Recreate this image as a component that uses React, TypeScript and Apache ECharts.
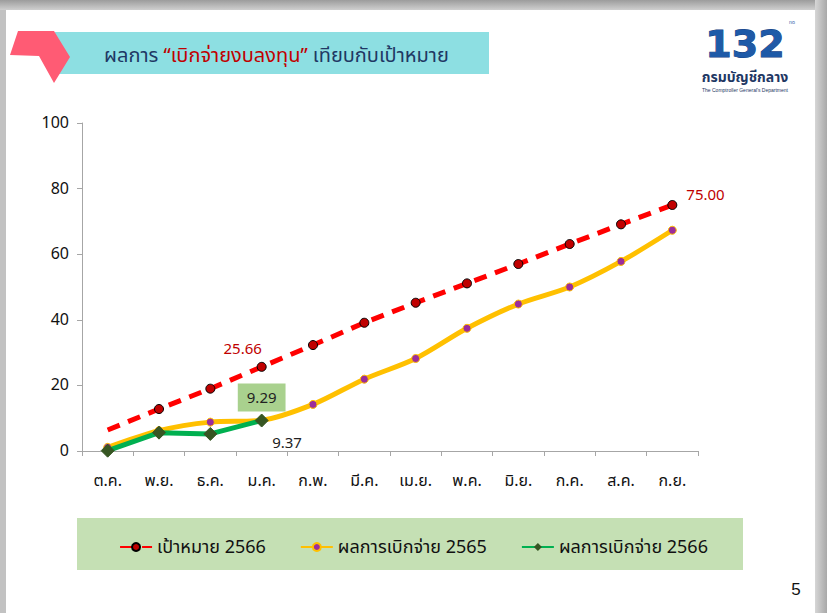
import React, { useEffect, useRef } from "react";
import * as echarts from "echarts";

const months = ["ต.ค.", "พ.ย.", "ธ.ค.", "ม.ค.", "ก.พ.", "มี.ค.", "เม.ย.", "พ.ค.", "มิ.ย.", "ก.ค.", "ส.ค.", "ก.ย."];
const target2566 = [6.4, 12.8, 19.0, 25.66, 32.3, 39.1, 45.2, 51.1, 57.0, 63.1, 69.1, 75.0];
const actual2565 = [1.1, 6.2, 8.8, 9.37, 14.2, 21.9, 28.2, 37.4, 44.8, 50.0, 57.8, 67.3];
const actual2566 = [0.1, 5.6, 5.2, 9.29];
const seriesNames = ["เป้าหมาย 2566", "ผลการเบิกจ่าย 2565", "ผลการเบิกจ่าย 2566"];
const yTicks = { min: 0, max: 100, interval: 20 };

const FONT = "'Noto Sans Thai', Tahoma, 'Noto Sans', sans-serif";

export default function App() {
  const ref = useRef<HTMLDivElement>(null);
  useEffect(() => {
    if (!ref.current) return;
    const chart = echarts.init(ref.current, undefined, { renderer: "svg" });

    const targetData = target2566.map((v, i) => {
      const item: any = { value: v };
      if (i === 0) item.symbol = "none";
      if (i === 3) {
        item.label = { show: true, position: "top", offset: [-19, 0], color: "#c00000", fontSize: 15, formatter: (p: any) => p.value.toFixed(2) };
      }
      if (i === target2566.length - 1) {
        item.label = { show: true, position: "right", offset: [4, -10], color: "#c00000", fontSize: 15, formatter: (p: any) => p.value.toFixed(2) };
      }
      return item;
    });
    const a65Data = actual2565.map((v, i) => {
      const item: any = { value: v };
      if (i === 3) {
        item.label = { show: true, position: "right", offset: [1, 23], color: "#222", fontSize: 15, formatter: (p: any) => p.value.toFixed(2) };
      }
      return item;
    });
    const a66Data = actual2566.map((v, i) => {
      const item: any = { value: v };
      if (i === 3) {
        item.label = {
          show: true, position: "top", offset: [0, 3], color: "#222", fontSize: 15,
          backgroundColor: "#a9d18e", padding: [7, 9, 6, 9],
          formatter: (p: any) => p.value.toFixed(2),
        };
      }
      return item;
    });

    chart.setOption({
      animation: false,
      textStyle: { fontFamily: FONT },
      grid: { left: 82, right: 129, top: 123, bottom: 162, containLabel: false },
      xAxis: {
        type: "category",
        data: months,
        boundaryGap: true,
        axisLine: { lineStyle: { color: "#a6a6a6", width: 1 } },
        axisTick: { show: true, length: 5, lineStyle: { color: "#a6a6a6" } },
        axisLabel: { color: "#111", fontSize: 16, margin: 22, fontFamily: FONT },
        splitLine: { show: false },
      },
      yAxis: {
        type: "value",
        min: yTicks.min,
        max: yTicks.max,
        interval: yTicks.interval,
        axisLine: { show: true, lineStyle: { color: "#a6a6a6", width: 1 } },
        axisTick: { show: true, length: 5, lineStyle: { color: "#a6a6a6" } },
        axisLabel: { color: "#111", fontSize: 16, margin: 13, fontFamily: FONT },
        splitLine: { show: false },
      },
      legend: {
        data: seriesNames,
        left: "center",
        top: 533,
        itemWidth: 32,
        itemHeight: 10,
        itemGap: 34,
        textStyle: { color: "#111", fontSize: 18, fontFamily: FONT },
        z: 10,
      },
      series: [
        {
          name: seriesNames[0],
          type: "line",
          data: targetData,
          symbol: "circle",
          symbolSize: 9,
          itemStyle: { color: "#c00000", borderColor: "#000", borderWidth: 1 },
          lineStyle: { color: "#ff0000", width: 5, type: [13, 9] },
          z: 3,
        },
        {
          name: seriesNames[1],
          type: "line",
          data: a65Data,
          smooth: 0.3,
          symbol: "circle",
          symbolSize: 8,
          itemStyle: { color: "#9b2d9b", borderColor: "#ffc000", borderWidth: 1 },
          lineStyle: { color: "#ffc000", width: 5 },
          z: 4,
        },
        {
          name: seriesNames[2],
          type: "line",
          data: a66Data,
          symbol: "diamond",
          symbolSize: 13,
          itemStyle: { color: "#375623", borderColor: "#375623" },
          lineStyle: { color: "#00b050", width: 5 },
          z: 5,
        },
      ],
      graphic: [
        // frame
        { type: "rect", z: -10, shape: { x: 0, y: 0, width: 827, height: 10 },
          style: { fill: new echarts.graphic.LinearGradient(0, 0, 0, 1, [{ offset: 0, color: "#9c9c9c" }, { offset: 1, color: "#cfcfcf" }]) } },
        { type: "rect", z: -10, shape: { x: 0, y: 10, width: 6, height: 603 }, style: { fill: "#c2c2c2" } },
        { type: "rect", z: -10, shape: { x: 815, y: 0, width: 12, height: 613 },
          style: { fill: new echarts.graphic.LinearGradient(0, 0, 1, 0, [{ offset: 0, color: "#d6d6d6" }, { offset: 1, color: "#a8a8a8" }]) } },
        // title banner
        { type: "rect", z: -5, shape: { x: 55, y: 32, width: 434, height: 42 }, style: { fill: "#8ddfe2" } },
        { type: "polygon", z: -4, shape: { points: [[18, 31], [54, 31], [70, 57], [54, 83], [39, 56], [10, 55]] }, style: { fill: "#ff5b74" } },
        {
          type: "text", z: 1, x: 104, y: 56,
          style: {
            text: "{n|ผลการ }{r|“เบิกจ่ายงบลงทุน”}{n| เทียบกับเป้าหมาย}",
            verticalAlign: "middle",
            rich: {
              n: { fill: "#1f3864", fontSize: 20, fontFamily: FONT },
              r: { fill: "#c00000", fontSize: 20, fontFamily: FONT },
            },
          },
        },
        // logo
        {
          type: "text", z: 1, x: 745, y: 44,
          style: { text: "132", fill: "#1e5aa8", fontSize: 38, fontWeight: "bold", fontFamily: "'DejaVu Sans', sans-serif", align: "center", verticalAlign: "middle", stroke: "#173f7f", lineWidth: 1 },
        },
        {
          type: "text", z: 1, x: 792, y: 22,
          style: { text: "ทด", fill: "#1e5aa8", fontSize: 5, fontFamily: FONT, align: "center", verticalAlign: "middle" },
        },
        {
          type: "text", z: 1, x: 745, y: 77,
          style: { text: "กรมบัญชีกลาง", fill: "#1f3864", fontSize: 14, fontWeight: "bold", fontFamily: FONT, align: "center", verticalAlign: "middle" },
        },
        {
          type: "text", z: 1, x: 745, y: 90,
          style: { text: "The Comptroller General's Department", fill: "#1f3864", fontSize: 5, fontFamily: "'Liberation Sans', sans-serif", align: "center", verticalAlign: "middle" },
        },
        // legend background
        { type: "rect", z: -5, shape: { x: 77, y: 518, width: 666, height: 52 }, style: { fill: "#c5e0b4" } },
        // page number
        {
          type: "text", z: 1, x: 796, y: 589,
          style: { text: "5", fill: "#111", fontSize: 17, fontFamily: "'Liberation Sans', sans-serif", align: "center", verticalAlign: "middle" },
        },
      ],
    });
    return () => chart.dispose();
  }, []);
  return <div ref={ref} style={{ position: "absolute", left: 0, top: 0, width: 827, height: 613 }} />;
}
